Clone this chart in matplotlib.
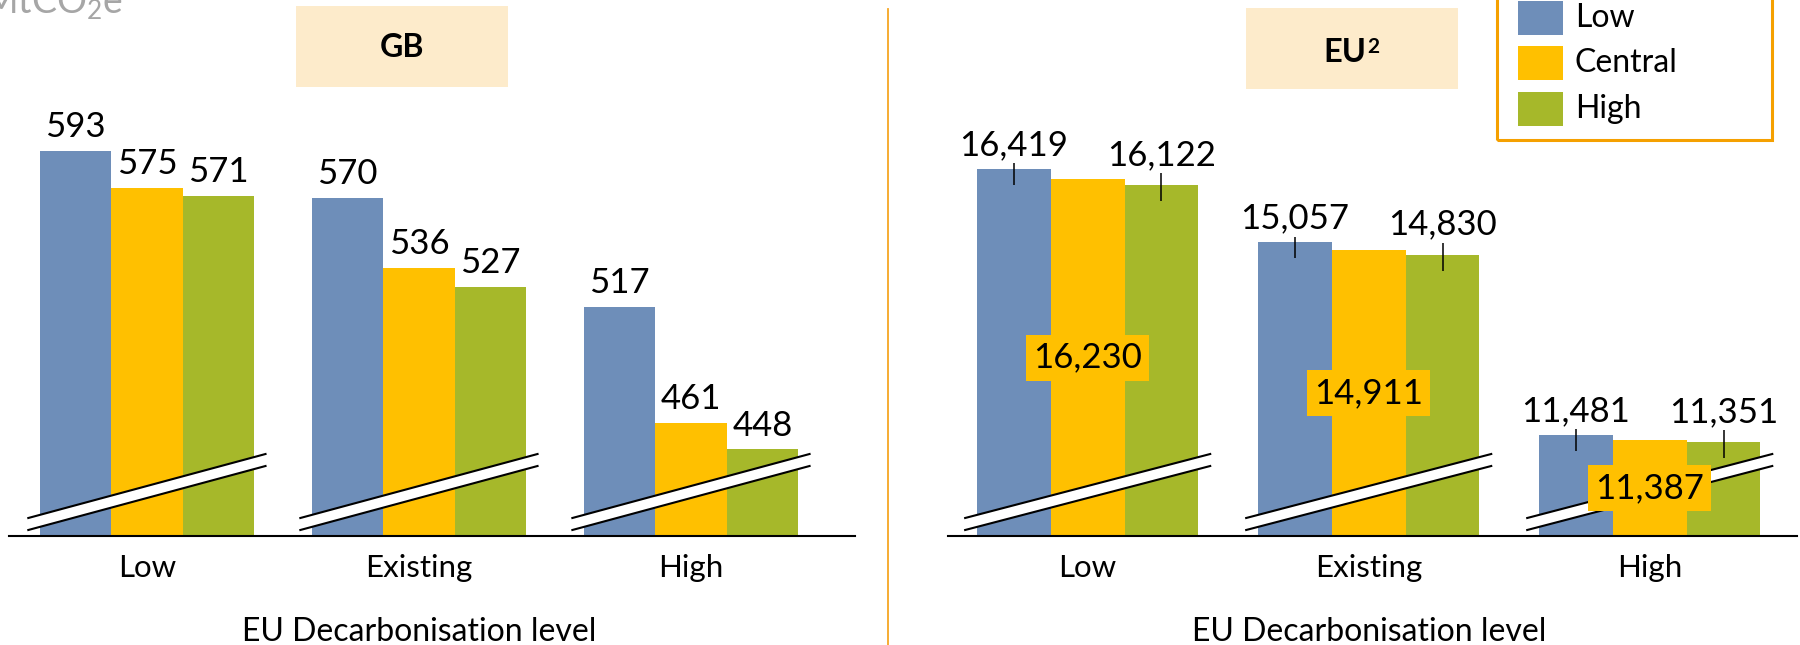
import matplotlib
matplotlib.use("Agg")
import matplotlib.pyplot as plt
from matplotlib.patches import Rectangle, Polygon
from matplotlib.lines import Line2D
import matplotlib.transforms as mtransforms
import numpy as np

plt.rcParams['font.family'] = ['Lato', 'DejaVu Sans']
plt.rcParams['mathtext.fontset'] = 'custom'
plt.rcParams['mathtext.rm'] = 'Lato'
plt.rcParams['mathtext.it'] = 'Lato:italic'
plt.rcParams['mathtext.bf'] = 'Lato:bold'

# ---- data ----
categories = ["Low", "Existing", "High"]
series = ["Low", "Central", "High"]
gb_low = [593, 570, 517]
gb_central = [575, 536, 461]
gb_high = [571, 527, 448]
eu_low = [16419, 15057, 11481]
eu_central = [16230, 14911, 11387]
eu_high = [16122, 14830, 11351]
colors = ["#6E8EB9", "#FFC000", "#A6B82A"]
xlabel = "EU Decarbonisation level"

W, H = 1800, 645
fig = plt.figure(figsize=(W / 100, H / 100), dpi=100)


def fx(x):
    return x / W


def fy(y):
    return 1 - y / H


AX_H = 436.0
BASE = 536.0
VAL_FS = 25


def panel(left_px, width_px, xlim, ylim, bw, data, eu):
    ax = fig.add_axes([fx(left_px), fy(BASE), width_px / W, AX_H / H])
    ymin = ylim[0]
    for j, vals in enumerate(data):
        xs = np.arange(len(categories)) + (j - 1) * bw
        vals = np.array(vals, dtype=float)
        ax.bar(xs, vals - ymin, bottom=ymin, width=bw, color=colors[j],
               linewidth=0, zorder=2)
        for x, v in zip(xs, vals):
            lab = f"{int(v):,}"
            if eu and j == 1:
                ax.text(x, (ymin + v) / 2, lab, ha='center', va='center',
                        fontsize=VAL_FS, zorder=9,
                        bbox=dict(boxstyle='square,pad=0.2', fc=colors[1], ec='none'))
            else:
                off = 10 if (not eu or j == 0) else 14.5
                ax.annotate(lab, (x, v), xytext=(0, off), textcoords='offset points',
                            ha='center', va='baseline', fontsize=VAL_FS, zorder=8)
                if eu:
                    up = 106 if j == 0 else 223
                    ax.vlines(x, v - 295, v + up, color='black', lw=1.1, zorder=8)
    ax.set_xlim(*xlim)
    ax.set_ylim(*ylim)
    for s in ['top', 'right', 'left']:
        ax.spines[s].set_visible(False)
    ax.spines['bottom'].set_linewidth(1.5)
    ax.spines['bottom'].set_zorder(10)
    ax.set_yticks([])
    ax.set_xticks(range(len(categories)))
    ax.set_xticklabels(categories, fontsize=22.5)
    ax.tick_params(axis='x', length=0, pad=13)
    # axis break marks
    tr = mtransforms.blended_transform_factory(ax.transData, ax.transAxes)
    y0, y1, h = 12 / AX_H, 76 / AX_H, 6 / AX_H
    for i in range(len(categories)):
        xl, xr = i - 0.436, i + 0.436
        poly = Polygon([(xl, y0 - h), (xr, y1 - h), (xr, y1 + h), (xl, y0 + h)],
                       closed=True, transform=tr, facecolor='white',
                       edgecolor='none', zorder=5, clip_on=False)
        ax.add_patch(poly)
        ax.plot([xl, xr], [y0 - h, y1 - h], transform=tr, color='black', lw=1.5,
                zorder=6, clip_on=False)
        ax.plot([xl, xr], [y0 + h, y1 + h], transform=tr, color='black', lw=1.5,
                zorder=6, clip_on=False)
    tr2 = mtransforms.blended_transform_factory(ax.transData, fig.transFigure)
    ax.text(1, fy(641), xlabel, transform=tr2, ha='center', va='baseline',
            fontsize=23)
    return ax


gb_ymin = 406
panel(9, 846, (-0.507, 2.603), (gb_ymin, gb_ymin + AX_H / 2.06), 0.263,
      [gb_low, gb_central, gb_high], eu=False)
eu_ymin = 9610
panel(948, 849, (-0.497, 2.524), (eu_ymin, eu_ymin + AX_H / 0.0539), 0.2626,
      [eu_low, eu_central, eu_high], eu=True)

# title boxes
fig.patches.append(Rectangle((fx(296), fy(87)), (508 - 296) / W, 81 / H,
                             transform=fig.transFigure, facecolor='#FDEBCB',
                             edgecolor='none', zorder=0))
fig.text(fx(402), fy(57), "GB", ha='center', va='baseline', fontsize=23,
         fontweight='bold')
fig.patches.append(Rectangle((fx(1246), fy(89)), (1458 - 1246) / W, 81 / H,
                             transform=fig.transFigure, facecolor='#FDEBCB',
                             edgecolor='none', zorder=0))
fig.text(fx(1366), fy(61.5), "EU", ha='right', va='baseline', fontsize=23.5,
         fontweight='bold')
fig.text(fx(1367), fy(53), "2", ha='left', va='baseline', fontsize=15,
         fontweight='bold')

# legend
fig.patches.append(Rectangle((fx(1497), fy(140)), (1772 - 1497) / W, 150 / H,
                             transform=fig.transFigure, fill=False,
                             edgecolor='#F5A000', linewidth=2.2, zorder=3))
leg_tops = [1, 46, 92]
for name, c, t in zip(series, colors, leg_tops):
    fig.patches.append(Rectangle((fx(1518), fy(t + 34)), 45 / W, 34 / H,
                                 transform=fig.transFigure, facecolor=c,
                                 edgecolor='none', zorder=3))
    fig.text(fx(1575), fy(t + 17), name, ha='left', va='center', fontsize=23)

# divider
fig.lines.append(Line2D([fx(888), fx(888)], [fy(9), 0], transform=fig.transFigure,
                        color='#F6A623', linewidth=1.3))

# unit label (partially cut off at top, as in the reference)
fig.text(fx(123), fy(13), "MtCO$_2$e", ha='right', va='baseline',
         color='#A6A6A6', fontsize=27)

fig.savefig("out.png", dpi=100)
